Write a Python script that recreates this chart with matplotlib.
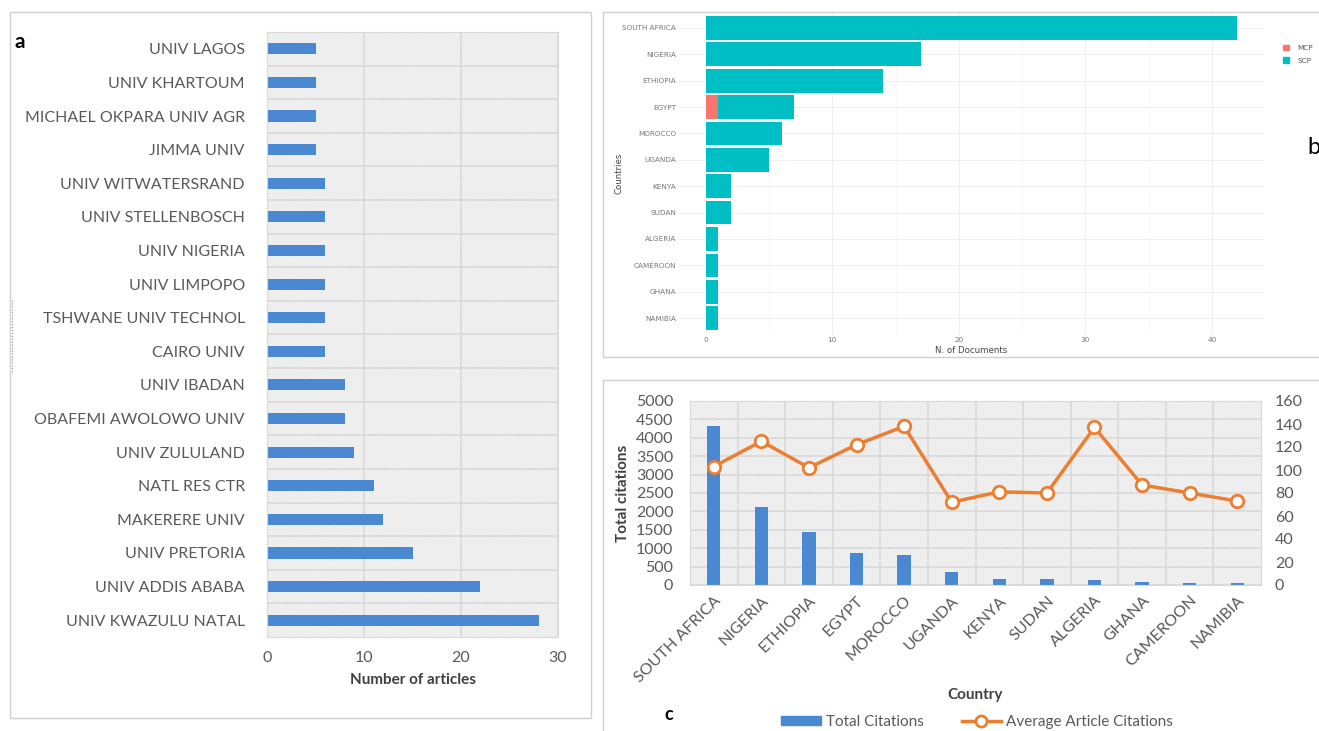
import matplotlib
matplotlib.use("Agg")
import matplotlib.pyplot as plt
import numpy as np
from matplotlib.patches import Rectangle, Patch
from matplotlib.lines import Line2D

plt.rcParams["font.family"] = ["Lato", "DejaVu Sans"]
plt.rcParams["hatch.linewidth"] = 0.5

# panel a: institutions (top to bottom)
institutions = [
    "UNIV LAGOS", "UNIV KHARTOUM", "MICHAEL OKPARA UNIV AGR", "JIMMA UNIV",
    "UNIV WITWATERSRAND", "UNIV STELLENBOSCH", "UNIV NIGERIA", "UNIV LIMPOPO",
    "TSHWANE UNIV TECHNOL", "CAIRO UNIV", "UNIV IBADAN", "OBAFEMI AWOLOWO UNIV",
    "UNIV ZULULAND", "NATL RES CTR", "MAKERERE UNIV", "UNIV PRETORIA",
    "UNIV ADDIS ABABA", "UNIV KWAZULU NATAL",
]
articles = [5, 5, 5, 5, 6, 6, 6, 6, 6, 6, 8, 8, 9, 11, 12, 15, 22, 28]

# panel b: documents per country (top to bottom)
countries_b = [
    "SOUTH AFRICA", "NIGERIA", "ETHIOPIA", "EGYPT", "MOROCCO", "UGANDA",
    "KENYA", "SUDAN", "ALGERIA", "CAMEROON", "GHANA", "NAMIBIA",
]
mcp_docs = [0, 0, 0, 1, 0, 0, 0, 0, 0, 0, 0, 0]
scp_docs = [42, 17, 14, 6, 6, 5, 2, 2, 1, 1, 1, 1]

# panel c: citations per country
countries_c = [
    "SOUTH AFRICA", "NIGERIA", "ETHIOPIA", "EGYPT", "MOROCCO", "UGANDA",
    "KENYA", "SUDAN", "ALGERIA", "GHANA", "CAMEROON", "NAMIBIA",
]
total_citations = [4320, 2130, 1430, 860, 810, 340, 160, 160, 130, 80, 60, 60]
avg_citations = [103, 125, 102, 122, 138, 72, 81, 80, 137, 87, 80, 73]

W, H = 1319, 731
BLUE = "#4a89d2"
ORANGE = "#ed7d31"
TXT = "#595959"
GRID = "#d9d9d9"


def box(x0, y0, x1, y1):
    return [x0 / W, 1 - y1 / H, (x1 - x0) / W, (y1 - y0) / H]


def frame(fig, x0, y0, x1, y1):
    fig.add_artist(Rectangle((x0 / W, 1 - y1 / H), (x1 - x0) / W, (y1 - y0) / H,
                             transform=fig.transFigure, facecolor="none",
                             edgecolor="#d0d0d0", lw=1.0))


def hatched(ax):
    ax.set_facecolor("#f9f9f9")
    ax.add_patch(Rectangle((0, 0), 1, 1, transform=ax.transAxes, facecolor="none",
                           edgecolor="#dcdcdc", hatch="\\" * 12, lw=0, zorder=0))
    for s in ax.spines.values():
        s.set_color(GRID)
    ax.set_axisbelow(True)


fig = plt.figure(figsize=(W / 100, H / 100), dpi=100)

# ---------------- panel a ----------------
frame(fig, 10, 12, 591, 718)
ax_a = fig.add_axes(box(267, 32, 558, 637))
hatched(ax_a)
ya = np.arange(len(institutions))
ax_a.barh(ya, articles, height=0.33, color=BLUE, zorder=2)
ax_a.set_ylim(len(institutions) - 0.5, -0.5)
ax_a.set_xlim(0, 30)
ax_a.set_xticks([0, 10, 20, 30])
ax_a.set_yticks(ya)
ax_a.set_yticklabels(institutions)
ax_a.set_yticks(ya[:-1] + 0.5, minor=True)
ax_a.tick_params(which="both", length=0, labelsize=11.5, colors=TXT)
ax_a.tick_params(axis="y", pad=16)
ax_a.tick_params(axis="x", pad=10)
ax_a.grid(axis="x", color=GRID, lw=1.2)
ax_a.grid(axis="y", which="minor", color=GRID, lw=1.2)
ax_a.set_xlabel("Number of articles", fontsize=11, fontweight="bold", color="#404040", labelpad=6)
fig.text(14 / W, 1 - 42 / H, "a", fontsize=15, fontweight="bold", va="center")
fig.add_artist(Line2D([12 / W, 12 / W], [1 - 300 / H, 1 - 372 / H], transform=fig.transFigure,
                      ls=":", color="#888888", lw=0.8))

# ---------------- panel b ----------------
frame(fig, 603, 12, 1330, 357)
ax_b = fig.add_axes(box(679, 12, 1264, 334))
yb = np.arange(len(countries_b))
ax_b.barh(yb, mcp_docs, height=0.9, color="#f8766d", zorder=2)
ax_b.barh(yb, scp_docs, left=mcp_docs, height=0.9, color="#00bfc4", zorder=2)
ax_b.set_ylim(len(countries_b) - 0.4, -0.6)
ax_b.set_xlim(-2.1, 44.1)
ax_b.set_xticks([0, 10, 20, 30, 40])
ax_b.set_xticks([5, 15, 25, 35], minor=True)
ax_b.set_yticks(yb)
ax_b.set_yticklabels(countries_b, family="DejaVu Sans")
for lbl in ax_b.get_xticklabels():
    lbl.set_family("DejaVu Sans")
ax_b.tick_params(which="both", length=0, labelsize=5.2, colors="#777777", pad=2)
ax_b.grid(which="major", color="#ececec", lw=0.6)
ax_b.grid(axis="x", which="minor", color="#f4f4f4", lw=0.5)
ax_b.set_axisbelow(True)
for s in ax_b.spines.values():
    s.set_visible(False)
ax_b.set_xlabel("N. of Documents", fontsize=6.2, color="#444444", labelpad=2, family="DejaVu Sans")
ax_b.set_ylabel("Countries", fontsize=6.2, color="#444444", labelpad=2, family="DejaVu Sans")
ax_b.yaxis.set_label_coords(-0.095, 0.5)
fig.legend(handles=[Patch(color="#f8766d"), Patch(color="#00bfc4")], labels=["MCP", "SCP"],
           loc="upper left", bbox_to_anchor=(1276 / W, 1 - 38 / H), frameon=False,
           prop={"family": "DejaVu Sans", "size": 5.2}, handlelength=0.9, handleheight=0.9,
           labelspacing=0.9, handletextpad=1.2, labelcolor="#555555")
fig.text(1307 / W, 1 - 148 / H, "b", fontsize=17, va="center", ha="left")

# ---------------- panel c ----------------
frame(fig, 603, 380, 1330, 740)
ax_c = fig.add_axes(box(690, 401, 1261, 585))
hatched(ax_c)
xc = np.arange(len(countries_c))
ax_c.bar(xc, total_citations, width=0.28, color=BLUE, zorder=2)
ax_c.set_xlim(-0.5, len(countries_c) - 0.5)
ax_c.set_ylim(0, 5000)
ax_c.set_yticks(np.arange(0, 5001, 500))
ax_c.set_xticks(xc)
ax_c.set_xticklabels(countries_c, rotation=45, ha="right", rotation_mode="anchor")
ax_c.set_xticks(xc[:-1] + 0.5, minor=True)
ax_c.tick_params(which="both", length=0, labelsize=11.5, colors=TXT)
ax_c.tick_params(axis="y", pad=12)
ax_c.tick_params(axis="x", pad=6)
ax_c.grid(axis="y", color=GRID, lw=1.2)
ax_c.grid(axis="x", which="minor", color=GRID, lw=1.2)
ax_c.set_ylabel("Total citations", fontsize=11, fontweight="bold", color="#404040")
ax_c.yaxis.set_label_coords(-0.105, 0.5)
ax_c.set_xlabel("Country", fontsize=11, fontweight="bold", color="#404040", labelpad=2)

ax_c2 = ax_c.twinx()
ax_c2.plot(xc, avg_citations, color=ORANGE, lw=2.5, marker="o", ms=9,
           mfc="white", mec=ORANGE, mew=2, zorder=3)
ax_c2.set_ylim(0, 160)
ax_c2.set_yticks(np.arange(0, 161, 20))
ax_c2.tick_params(length=0, labelsize=11.5, colors=TXT, pad=10)
for s in ax_c2.spines.values():
    s.set_visible(False)

fig.legend(handles=[Patch(color=BLUE),
                    Line2D([], [], color=ORANGE, lw=2.5, marker="o", ms=8, mfc="white", mew=2)],
           labels=["Total Citations", "Average Article Citations"],
           loc="center", bbox_to_anchor=(977 / W, 1 - 722 / H), ncol=2, frameon=False,
           fontsize=11, handlelength=2.6, handleheight=0.5, columnspacing=2.5,
           handletextpad=0.3, labelcolor=TXT)
fig.text(664 / W, 1 - 714 / H, "c", fontsize=13, fontweight="bold", va="center")

fig.savefig("out.png", dpi=100)
